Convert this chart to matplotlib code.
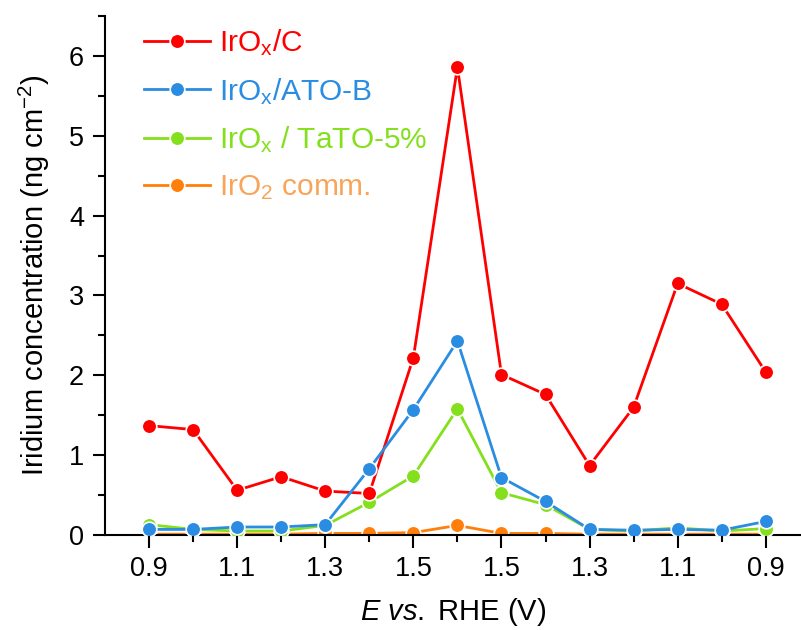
import matplotlib
matplotlib.use("Agg")
import matplotlib.pyplot as plt
from matplotlib.ticker import FixedLocator, MultipleLocator

plt.rcParams['font.family'] = ['Liberation Sans', 'DejaVu Sans']
plt.rcParams['mathtext.fontset'] = 'custom'
plt.rcParams['mathtext.rm'] = 'Liberation Sans'
plt.rcParams['mathtext.it'] = 'Liberation Sans:italic'
plt.rcParams['mathtext.bf'] = 'Liberation Sans:bold'

# potential steps (forward then back)
potential = [0.9, 1.0, 1.1, 1.2, 1.3, 1.4, 1.5, 1.6, 1.5, 1.4, 1.3, 1.2, 1.1, 1.0, 0.9]

# Ir concentration (ng cm-2)
irox_c = [1.37, 1.32, 0.56, 0.73, 0.55, 0.52, 2.22, 5.86, 2.01, 1.76, 0.87, 1.60, 3.15, 2.89, 2.04]
irox_ato = [0.07, 0.07, 0.10, 0.10, 0.13, 0.83, 1.57, 2.43, 0.72, 0.42, 0.07, 0.06, 0.07, 0.06, 0.17]
irox_tato = [0.13, 0.07, 0.05, 0.05, 0.12, 0.41, 0.74, 1.58, 0.53, 0.38, 0.07, 0.05, 0.09, 0.05, 0.08]
iro2_comm = [0.01, 0.01, 0.01, 0.01, 0.02, 0.02, 0.03, 0.12, 0.02, 0.02, 0.01, 0.01, 0.01, 0.01, 0.01]

labels = [r'IrO$_\mathregular{x}$/C', r'IrO$_\mathregular{x}$/ATO-B',
          r'IrO$_\mathregular{x}$ / TaTO-5%', r'IrO$_\mathregular{2}$ comm.']
colors = ['#FF0000', '#2A8DE2', '#84E01C', '#FF7F0A']
text_colors = ['#FF0000', '#2A8DE2', '#84E01C', '#F8A55B']

fig = plt.figure(figsize=(8.01, 6.3), dpi=100)
ax = fig.add_axes([105 / 801, 1 - 535 / 630, 696 / 801, 519 / 630])

x = list(range(len(potential)))
series = [irox_c, irox_ato, irox_tato, iro2_comm]
zorders = [4, 5, 3, 2]
handles = []
for y, c, lab, z in zip(series, colors, labels, zorders):
    h, = ax.plot(x, y, '-o', color=c, lw=2, ms=10.5, mec='white', mew=1.2,
                 label=lab, zorder=z)
    handles.append(h)

ax.set_xlim(-1, 14.8)
ax.set_ylim(0, 6.5)

ax.xaxis.set_major_locator(FixedLocator(x[::2]))
ax.xaxis.set_minor_locator(FixedLocator(x[1::2]))
ax.set_xticklabels([f'{p:.1f}' for p in potential[::2]])
ax.yaxis.set_major_locator(MultipleLocator(1))
ax.yaxis.set_minor_locator(MultipleLocator(0.5))

for side in ['top', 'right']:
    ax.spines[side].set_visible(False)
for side in ['left', 'bottom']:
    ax.spines[side].set_linewidth(1.5)

ax.tick_params(which='major', direction='out', length=9, width=1.5, labelsize=19.5, pad=6)
ax.tick_params(which='minor', direction='out', length=5, width=1.5)

ax.set_xlabel(r'$\mathit{E\ vs.}$ RHE (V)', fontsize=21, labelpad=10)
ax.set_ylabel(r'Iridium concentration (ng cm$^\mathregular{-2}$)', fontsize=21, labelpad=12)

leg = ax.legend(handles=handles, loc='upper left', bbox_to_anchor=(0.05, 0.987),
                frameon=False, fontsize=21.5, handlelength=2.2, handletextpad=0.3,
                labelspacing=0.6, borderaxespad=0, borderpad=0.15)
for t, c in zip(leg.get_texts(), text_colors):
    t.set_color(c)

fig.savefig('out.png', dpi=100)
